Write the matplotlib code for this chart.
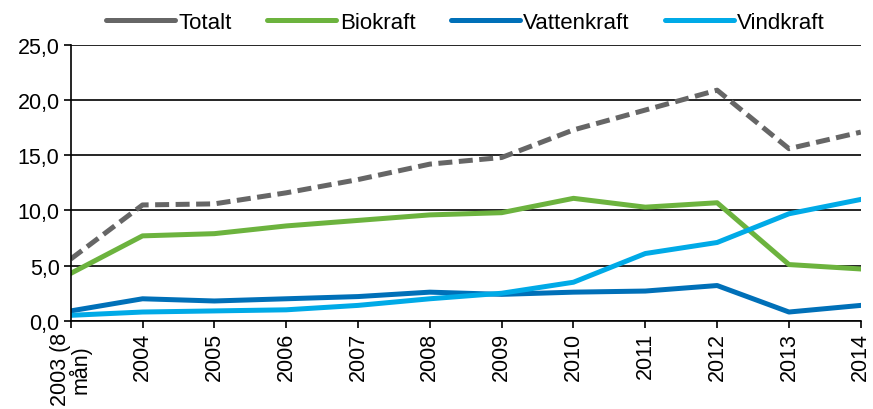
import matplotlib
matplotlib.use("Agg")
import matplotlib.pyplot as plt

plt.rcParams['font.family'] = ['Liberation Sans', 'DejaVu Sans']

years = ['2003 (8\nmån)', '2004', '2005', '2006', '2007', '2008', '2009',
         '2010', '2011', '2012', '2013', '2014']
totalt = [5.6, 10.5, 10.6, 11.6, 12.8, 14.2, 14.8, 17.3, 19.1, 20.9, 15.6, 17.1]
biokraft = [4.3, 7.7, 7.9, 8.6, 9.1, 9.6, 9.8, 11.1, 10.3, 10.7, 5.1, 4.7]
vattenkraft = [0.9, 2.0, 1.8, 2.0, 2.2, 2.6, 2.4, 2.6, 2.7, 3.2, 0.8, 1.4]
vindkraft = [0.5, 0.8, 0.9, 1.0, 1.4, 2.0, 2.5, 3.5, 6.1, 7.1, 9.7, 11.0]

fig, ax = plt.subplots(figsize=(8.73, 4.10), dpi=100)
fig.subplots_adjust(left=0.081, right=0.986, top=0.888, bottom=0.215)

x = list(range(len(years)))
lw = 3.6
fs = 15.5
ax.plot(x, totalt, color='#666666', lw=lw, dashes=(2.8, 1.3), label='Totalt')
ax.plot(x, biokraft, color='#6cb33e', lw=lw, label='Biokraft')
ax.plot(x, vattenkraft, color='#0070b8', lw=lw, label='Vattenkraft')
ax.plot(x, vindkraft, color='#00aae7', lw=lw, label='Vindkraft')

ax.set_ylim(0, 25)
ax.set_xlim(0, len(years) - 1)
ax.set_yticks([0, 5, 10, 15, 20, 25])
ax.set_yticklabels(['0,0', '5,0', '10,0', '15,0', '20,0', '25,0'], fontsize=fs)
ax.set_xticks(x)
ax.set_xticklabels(years, rotation=90, fontsize=fs, linespacing=0.85)
ax.yaxis.grid(True, color='black', lw=1.2)
ax.set_axisbelow(True)
for s in ['top', 'right']:
    ax.spines[s].set_visible(False)
ax.spines['left'].set_linewidth(1.2)
ax.spines['bottom'].set_linewidth(1.2)
ax.tick_params(axis='both', length=5, width=1.2, colors='black', pad=3)
ax.spines['left'].set_clip_on(False)

leg = ax.legend(loc='lower center', bbox_to_anchor=(0.5, 0.995), ncol=4, frameon=False,
                prop={'size': 16}, handlelength=3.1, handletextpad=0.15, columnspacing=1.6,
                borderaxespad=0.2)
for line in leg.get_lines():
    line.set_linestyle('-')
    line.set_solid_capstyle('round')

fig.savefig('out.png', dpi=100)
